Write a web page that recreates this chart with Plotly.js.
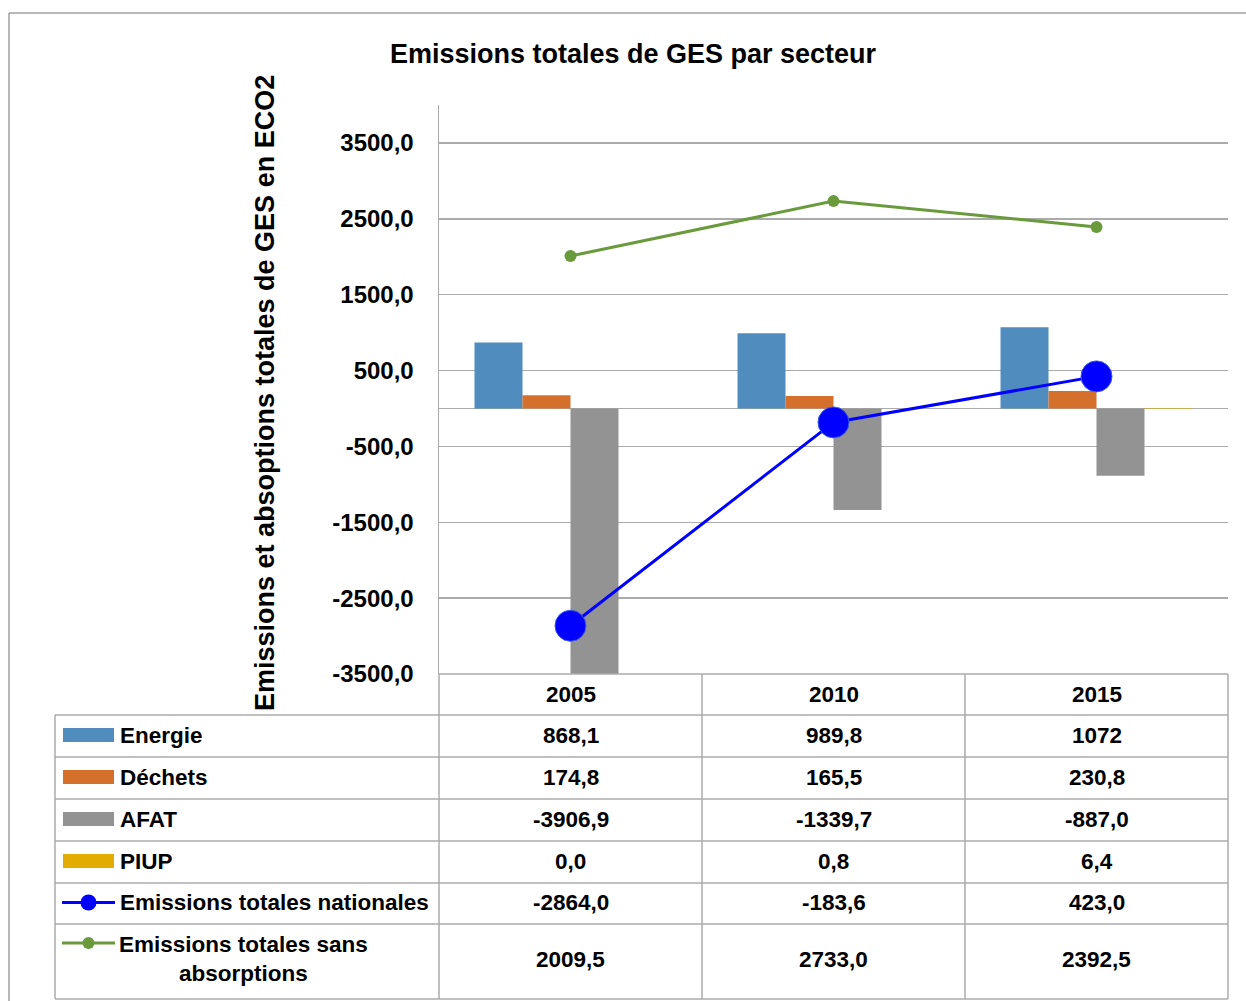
<!DOCTYPE html>
<html>
<head>
<meta charset="utf-8">
<script src="https://cdn.plot.ly/plotly-3.0.1.min.js"></script>
<style>html,body{margin:0;padding:0;background:#fff;}#chart{width:1246px;height:1001px;}</style>
</head>
<body>
<div id="chart"></div>
<script>
// ---- data ----
const years = ['2005', '2010', '2015'];
const energie = [868.1, 989.8, 1072];
const dechets = [174.8, 165.5, 230.8];
const afat = [-3906.9, -1339.7, -887.0];
const piup = [0.0, 0.8, 6.4];
const totalNationales = [-2864.0, -183.6, 423.0];
const totalSansAbsorptions = [2009.5, 2733.0, 2392.5];
const seriesNames = ['Energie', 'Déchets', 'AFAT', 'PIUP', 'Emissions totales nationales', 'Emissions totales sans absorptions'];
const yTickValues = [-3500, -2500, -1500, -500, 500, 1500, 2500, 3500];
const chartTitle = 'Emissions totales de GES par secteur';
const yTitle = 'Emissions et absoptions totales de GES en ECO2';

// ---- helpers ----
const W = 1246, H = 1001;
const px = x => x / W;
const py = y => 1 - y / H;
const fmt1 = v => v.toFixed(1).replace('.', ',');
const fmtGeneral = v => String(v).replace('.', ',');
const FONT = 'Liberation Sans, Arial, sans-serif';
const GRID = '#ababab';
const TSIZE = 22.5;

const colors = {
  energie: '#508cbe', dechets: '#d4702c', afat: '#939393', piup: '#e3ac00',
  nat: '#0000ff', sans: '#6a9a3c'
};

const barSeries = [
  {name: seriesNames[0], y: energie, color: colors.energie},
  {name: seriesNames[1], y: dechets, color: colors.dechets},
  {name: seriesNames[2], y: afat, color: colors.afat},
  {name: seriesNames[3], y: piup, color: colors.piup}
];

const traces = barSeries.map(s => ({
  type: 'bar', x: years, y: s.y, name: s.name,
  marker: {color: s.color, line: {width: 0}}, hoverinfo: 'skip'
}));
traces.push({
  type: 'scatter', mode: 'lines+markers', x: years, y: totalNationales, name: seriesNames[4],
  line: {color: colors.nat, width: 3},
  marker: {color: colors.nat, size: 31, line: {color: '#3b5bdb', width: 1}},
  cliponaxis: false, hoverinfo: 'skip'
});
traces.push({
  type: 'scatter', mode: 'lines+markers', x: years, y: totalSansAbsorptions, name: seriesNames[5],
  line: {color: colors.sans, width: 3},
  marker: {color: colors.sans, size: 12},
  cliponaxis: false, hoverinfo: 'skip'
});

// ---- table geometry ----
const colX = [439, 702, 965, 1228];
const rowY = [715, 757, 799, 841, 883, 924, 999];
const tableLeft = 55, tableTop = 674;

const shapes = [];
const line = (x0, y0, x1, y1, color, width) => shapes.push({
  type: 'line', xref: 'paper', yref: 'paper', x0: px(x0), y0: py(y0), x1: px(x1), y1: py(y1),
  line: {color: color || GRID, width: width || 1.5}, layer: 'above'
});
// chart outer border
line(9, 13, W + 2, 13, '#a0a0a0', 1.5);
line(9, 13, 9, H + 2, '#a0a0a0', 1.5);
// table horizontal lines
rowY.forEach(y => line(tableLeft, y, colX[3], y));
line(colX[0], tableTop, colX[3], tableTop);
// table verticals
line(tableLeft, rowY[0], tableLeft, rowY[6]);
colX.forEach(x => line(x, tableTop, x, rowY[6]));

const annotations = [];
const txt = (text, xref, x, y, opts) => annotations.push(Object.assign({
  text: text, xref: xref, yref: 'paper', x: x, y: py(y), showarrow: false,
  xanchor: 'center', yanchor: 'middle',
  font: {family: FONT, size: TSIZE, color: '#000', weight: 'bold'}
}, opts || {}));

// header (x given as category index on the category axis)
years.forEach((yr, j) => txt(yr, 'x', j, 694));

const rows = [
  {name: seriesNames[0], values: energie, fmt: fmtGeneral, key: 'rect', color: colors.energie},
  {name: seriesNames[1], values: dechets, fmt: fmt1, key: 'rect', color: colors.dechets},
  {name: seriesNames[2], values: afat, fmt: fmt1, key: 'rect', color: colors.afat},
  {name: seriesNames[3], values: piup, fmt: fmt1, key: 'rect', color: colors.piup},
  {name: seriesNames[4], values: totalNationales, fmt: fmt1, key: 'line', color: colors.nat, msize: 16},
  {name: seriesNames[5], values: totalSansAbsorptions, fmt: fmt1, key: 'line', color: colors.sans, msize: 12}
];

rows.forEach((r, i) => {
  const yc = (i === 5) ? 959 : (rowY[i] + rowY[i + 1]) / 2 - 1;
  r.values.forEach((v, j) => txt(r.fmt(v), 'x', j, yc));
  const keyY = (i === 5) ? 943 : yc;
  if (r.key === 'rect') {
    shapes.push({type: 'rect', xref: 'paper', yref: 'paper', x0: px(63), x1: px(114), y0: py(keyY - 7), y1: py(keyY + 7),
      fillcolor: r.color, line: {width: 0}, layer: 'above'});
  } else {
    line(62, keyY, 115, keyY, r.color, 3);
    const rr = r.msize / 2;
    shapes.push({type: 'circle', xref: 'paper', yref: 'paper', x0: px(88.5 - rr), x1: px(88.5 + rr), y0: py(keyY - rr), y1: py(keyY + rr),
      fillcolor: r.color, line: {width: 0}, layer: 'above'});
  }
  if (i === 5) {
    const words = r.name.split(' ');
    const first = words.slice(0, 3).join(' ');
    const second = words.slice(3).join(' ');
    txt(first + '<br>' + second, 'paper', px(244), yc, {align: 'center'});
  } else {
    txt(r.name, 'paper', px(118), yc, {xanchor: 'left'});
  }
});

// y title
txt(yTitle, 'paper', px(265), 393, {textangle: -90, font: {family: FONT, size: 27, color: '#000', weight: 'bold'}});

const layout = {
  width: W, height: H,
  margin: {l: 0, r: 0, t: 0, b: 0},
  paper_bgcolor: '#fff', plot_bgcolor: '#fff',
  showlegend: false,
  barmode: 'group', bargap: 0.27, bargroupgap: 0,
  title: {text: chartTitle, x: px(633), y: py(54), xanchor: 'center', yanchor: 'middle', xref: 'paper', yref: 'paper',
    font: {family: FONT, size: 27, color: '#000', weight: 'bold'}},
  xaxis: {
    type: 'category', domain: [px(439), px(1228)], range: [-0.5, 2.5], autorange: false,
    showticklabels: false, ticks: '',
    showgrid: false, zeroline: false, showline: false, fixedrange: true
  },
  yaxis: {
    domain: [py(674), py(105)], range: [-3500, 4000], autorange: false,
    tickvals: yTickValues, ticktext: yTickValues.map(fmt1),
    tickfont: {family: FONT, size: 24, color: '#000', weight: 'bold'},
    ticklabelstandoff: 19,
    showgrid: true, gridcolor: GRID, gridwidth: 1.5,
    zeroline: true, zerolinecolor: GRID, zerolinewidth: 1.5,
    showline: true, linecolor: GRID, linewidth: 1.5, ticks: '', fixedrange: true
  },
  shapes: shapes,
  annotations: annotations
};

Plotly.newPlot('chart', traces, layout, {displayModeBar: false, staticPlot: true});
</script>
</body>
</html>
